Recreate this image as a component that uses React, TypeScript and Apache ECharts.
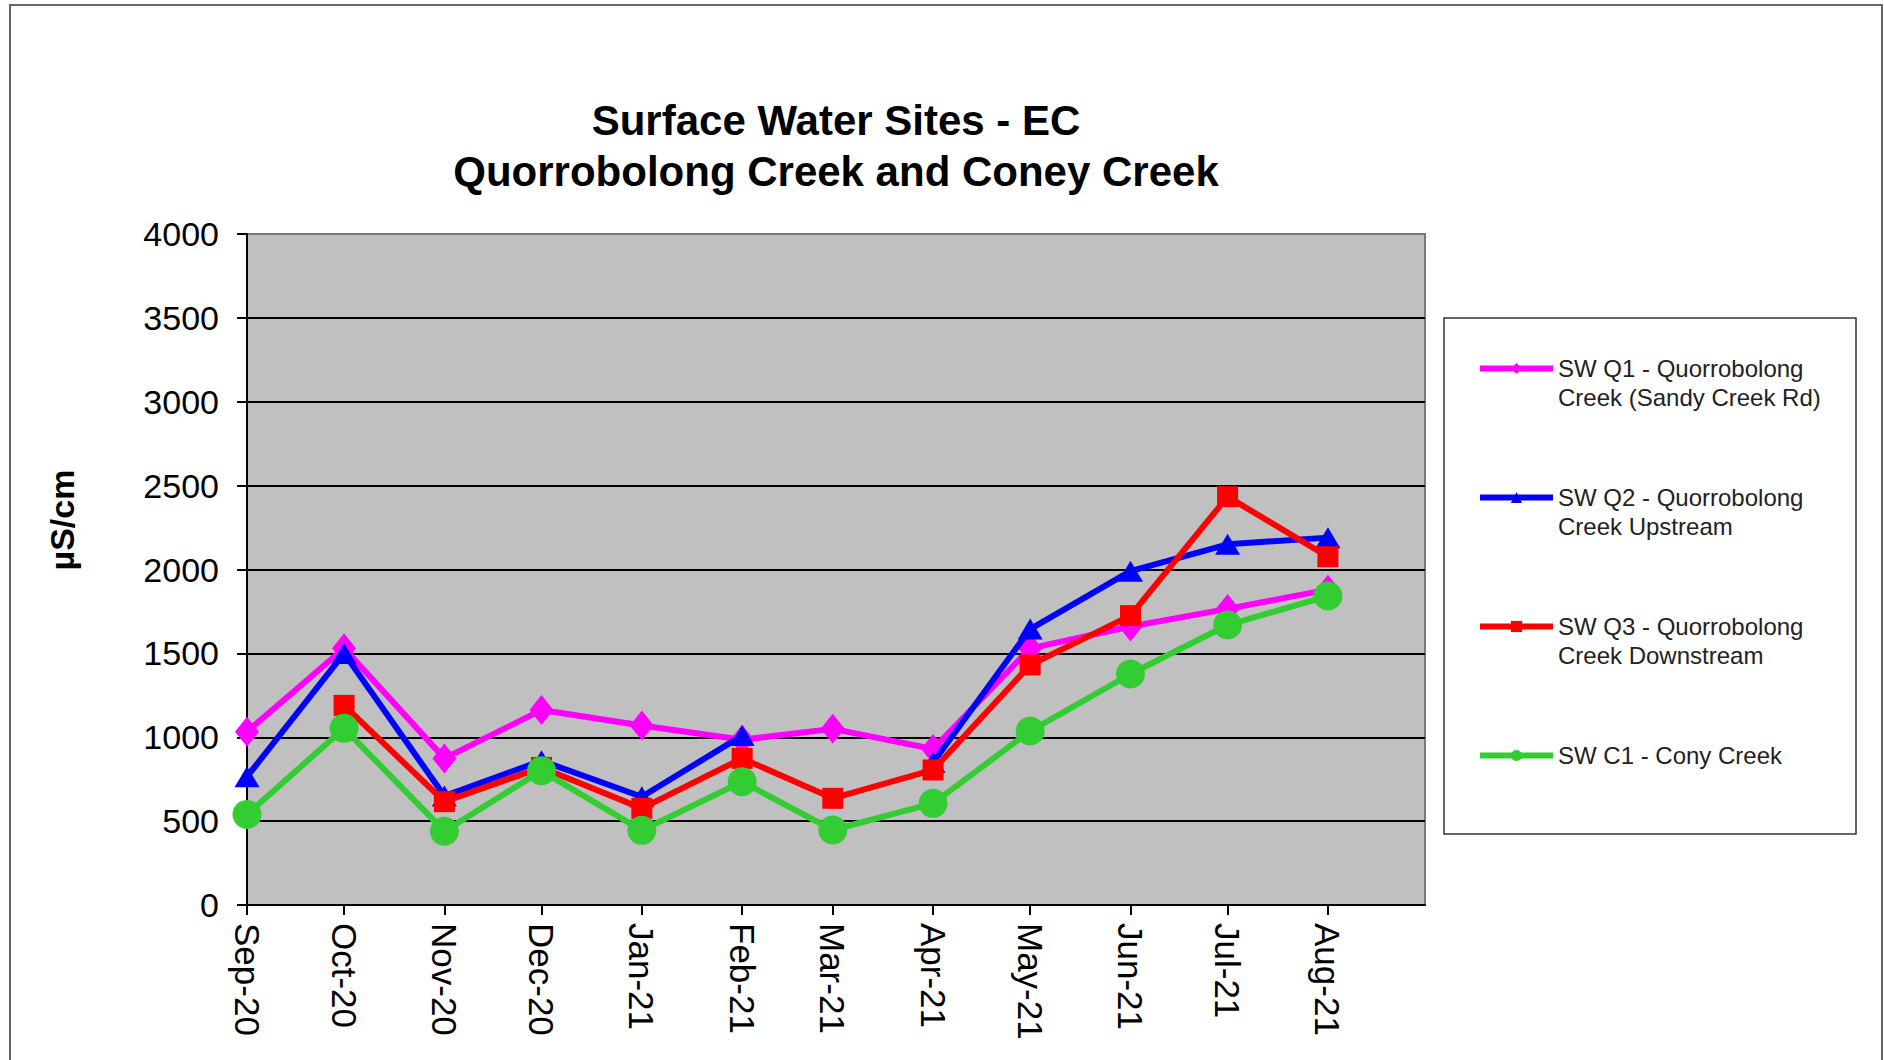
import React, { useEffect, useRef } from 'react';
import * as echarts from 'echarts';

// ---- data ----
const months = ['2020-09', '2020-10', '2020-11', '2020-12', '2021-01', '2021-02', '2021-03', '2021-04', '2021-05', '2021-06', '2021-07', '2021-08'];
const axisStart = '2020-09-01';
const axisEnd = '2021-08-31';

const seriesNames = [
  'SW Q1 - Quorrobolong Creek (Sandy Creek Rd)',
  'SW Q2 - Quorrobolong Creek Upstream',
  'SW Q3 - Quorrobolong Creek Downstream',
  'SW C1 - Cony Creek',
];
const legendLines = [
  ['SW Q1 - Quorrobolong', 'Creek (Sandy Creek Rd)'],
  ['SW Q2 - Quorrobolong', 'Creek Upstream'],
  ['SW Q3 - Quorrobolong', 'Creek Downstream'],
  ['SW C1 - Cony Creek'],
];

const q1Values = [1033, 1530, 874, 1162, 1070, 985, 1050, 930, 1530, 1660, 1765, 1880];
const q2Values = [765, 1500, 650, 860, 645, 1010, null, 850, 1645, 1990, 2150, 2190];
const q3Values = [null, 1190, 616, 820, 576, 874, 636, 805, 1431, 1725, 2434, 2076];
const c1Values = [540, 1053, 440, 800, 445, 735, 447, 606, 1037, 1377, 1669, 1842];

const yMin = 0;
const yMax = 4000;
const yStep = 500;
const titleLines = ['Surface Water Sites - EC', 'Quorrobolong Creek and Coney Creek'];
const yAxisName = 'µS/cm';

const FONT = '"Liberation Sans", Arial, Helvetica, sans-serif';

function monthTime(m: string): number {
  const [y, mo] = m.split('-').map(Number);
  return new Date(y, mo - 1, 1).getTime();
}
function dayTime(d: string): number {
  const [y, mo, da] = d.split('-').map(Number);
  return new Date(y, mo - 1, da).getTime();
}

const DAY = 86400000;

export default function App() {
  const ref = useRef<HTMLDivElement>(null);

  useEffect(() => {
    if (!ref.current) return;
    const chart = echarts.init(ref.current, undefined, { renderer: 'svg' });

    const toPairs = (vals: (number | null)[]) =>
      months.map((m, i) => [monthTime(m), vals[i] === null ? '-' : vals[i]]);

    const colors = ['#FF00FF', '#0000FF', '#FF0000', '#33CC33'];
    const symbols = ['diamond', 'triangle', 'rect', 'circle'];
    const sizes: any[] = [[24, 30], [25, 21], [21, 21], [29, 29]];
    const allVals = [q1Values, q2Values, q3Values, c1Values];

    const legendMap: Record<string, string> = {};
    seriesNames.forEach((n, i) => {
      const l = legendLines[i];
      legendMap[n] = ' \n' + l.join('\n') + (l.length === 1 ? '\n ' : '');
    });

    const gridLeft = 247;
    const gridTop = 234;
    const gridW = 1178;
    const gridH = 671;

    chart.setOption({
      animation: false,
      backgroundColor: '#ffffff',
      textStyle: { fontFamily: FONT },
      graphic: [
        {
          type: 'rect',
          silent: true,
          z: 0,
          shape: { x: 10, y: 5, width: 1872, height: 1075 },
          style: { fill: 'none', stroke: '#666', lineWidth: 2 },
        },
        {
          type: 'rect',
          silent: true,
          z: 1,
          shape: { x: 1444, y: 318, width: 412, height: 516 },
          style: { fill: '#ffffff', stroke: '#333', lineWidth: 1.5 },
        },
        {
          type: 'text',
          silent: true,
          x: gridLeft + gridW / 2,
          y: 120,
          style: {
            text: titleLines[0],
            fontSize: 42,
            fontWeight: 'bold',
            fontFamily: FONT,
            fill: '#000',
            align: 'center',
            verticalAlign: 'middle',
          },
        },
        {
          type: 'text',
          silent: true,
          x: gridLeft + gridW / 2,
          y: 171,
          style: {
            text: titleLines[1],
            fontSize: 42,
            fontWeight: 'bold',
            fontFamily: FONT,
            fill: '#000',
            align: 'center',
            verticalAlign: 'middle',
          },
        },
        {
          type: 'text',
          silent: true,
          x: 62,
          y: 520,
          rotation: Math.PI / 2,
          style: {
            text: yAxisName,
            fontSize: 34,
            fontWeight: 'bold',
            fontFamily: FONT,
            fill: '#000',
            align: 'center',
            verticalAlign: 'middle',
          },
        },
      ],
      legend: {
        orient: 'vertical',
        left: 1477,
        top: 325,
        padding: 0,
        itemGap: 42,
        itemWidth: 73,
        itemHeight: 14,
        selectedMode: false,
        data: seriesNames,
        formatter: (name: string) => legendMap[name] || name,
        lineStyle: { width: 6 },
        textStyle: { fontSize: 24, color: '#222', lineHeight: 29, fontFamily: FONT },
      },
      grid: {
        left: gridLeft,
        top: gridTop,
        width: gridW,
        height: gridH,
        show: true,
        backgroundColor: '#C0C0C0',
        borderColor: '#7a7a7a',
        borderWidth: 2,
        containLabel: false,
      },
      xAxis: {
        type: 'time',
        min: dayTime(axisStart),
        max: dayTime(axisEnd),
        splitNumber: 12,
        minInterval: 28 * DAY,
        maxInterval: 31 * DAY,
        axisLine: { show: true, onZero: false, lineStyle: { color: '#000', width: 2 } },
        axisTick: { show: true, inside: false, length: 10, lineStyle: { color: '#000', width: 2 } },
        splitLine: { show: false },
        axisLabel: {
          formatter: '{MMM}-{yy}',
          rotate: -90,
          fontSize: 35,
          color: '#000',
          margin: 18,
          fontFamily: FONT,
          showMaxLabel: false,
          hideOverlap: false,
        },
      },
      yAxis: {
        type: 'value',
        min: yMin,
        max: yMax,
        interval: yStep,
        axisLine: { show: true, lineStyle: { color: '#000', width: 2 } },
        axisTick: { show: true, inside: false, length: 10, lineStyle: { color: '#000', width: 2 } },
        axisLabel: {
          fontSize: 34,
          color: '#000',
          margin: 28,
          fontFamily: FONT,
          formatter: (v: number) => String(v),
        },
        splitLine: { show: true, showMaxLine: false, lineStyle: { color: '#000', width: 2 } },
      },
      series: seriesNames.map((name, i) => ({
        name,
        type: 'line',
        data: toPairs(allVals[i]),
        symbol: symbols[i],
        symbolSize: sizes[i],
        showAllSymbol: true,
        connectNulls: false,
        color: colors[i],
        itemStyle: { color: colors[i] },
        lineStyle: { color: colors[i], width: 6 },
        z: 2 + i,
        emphasis: { disabled: true },
      })),
    });

    return () => {
      chart.dispose();
    };
  }, []);

  return (
    <div
      ref={ref}
      style={{ position: 'fixed', left: 0, top: 0, width: 1884, height: 1060, background: '#fff' }}
    />
  );
}
